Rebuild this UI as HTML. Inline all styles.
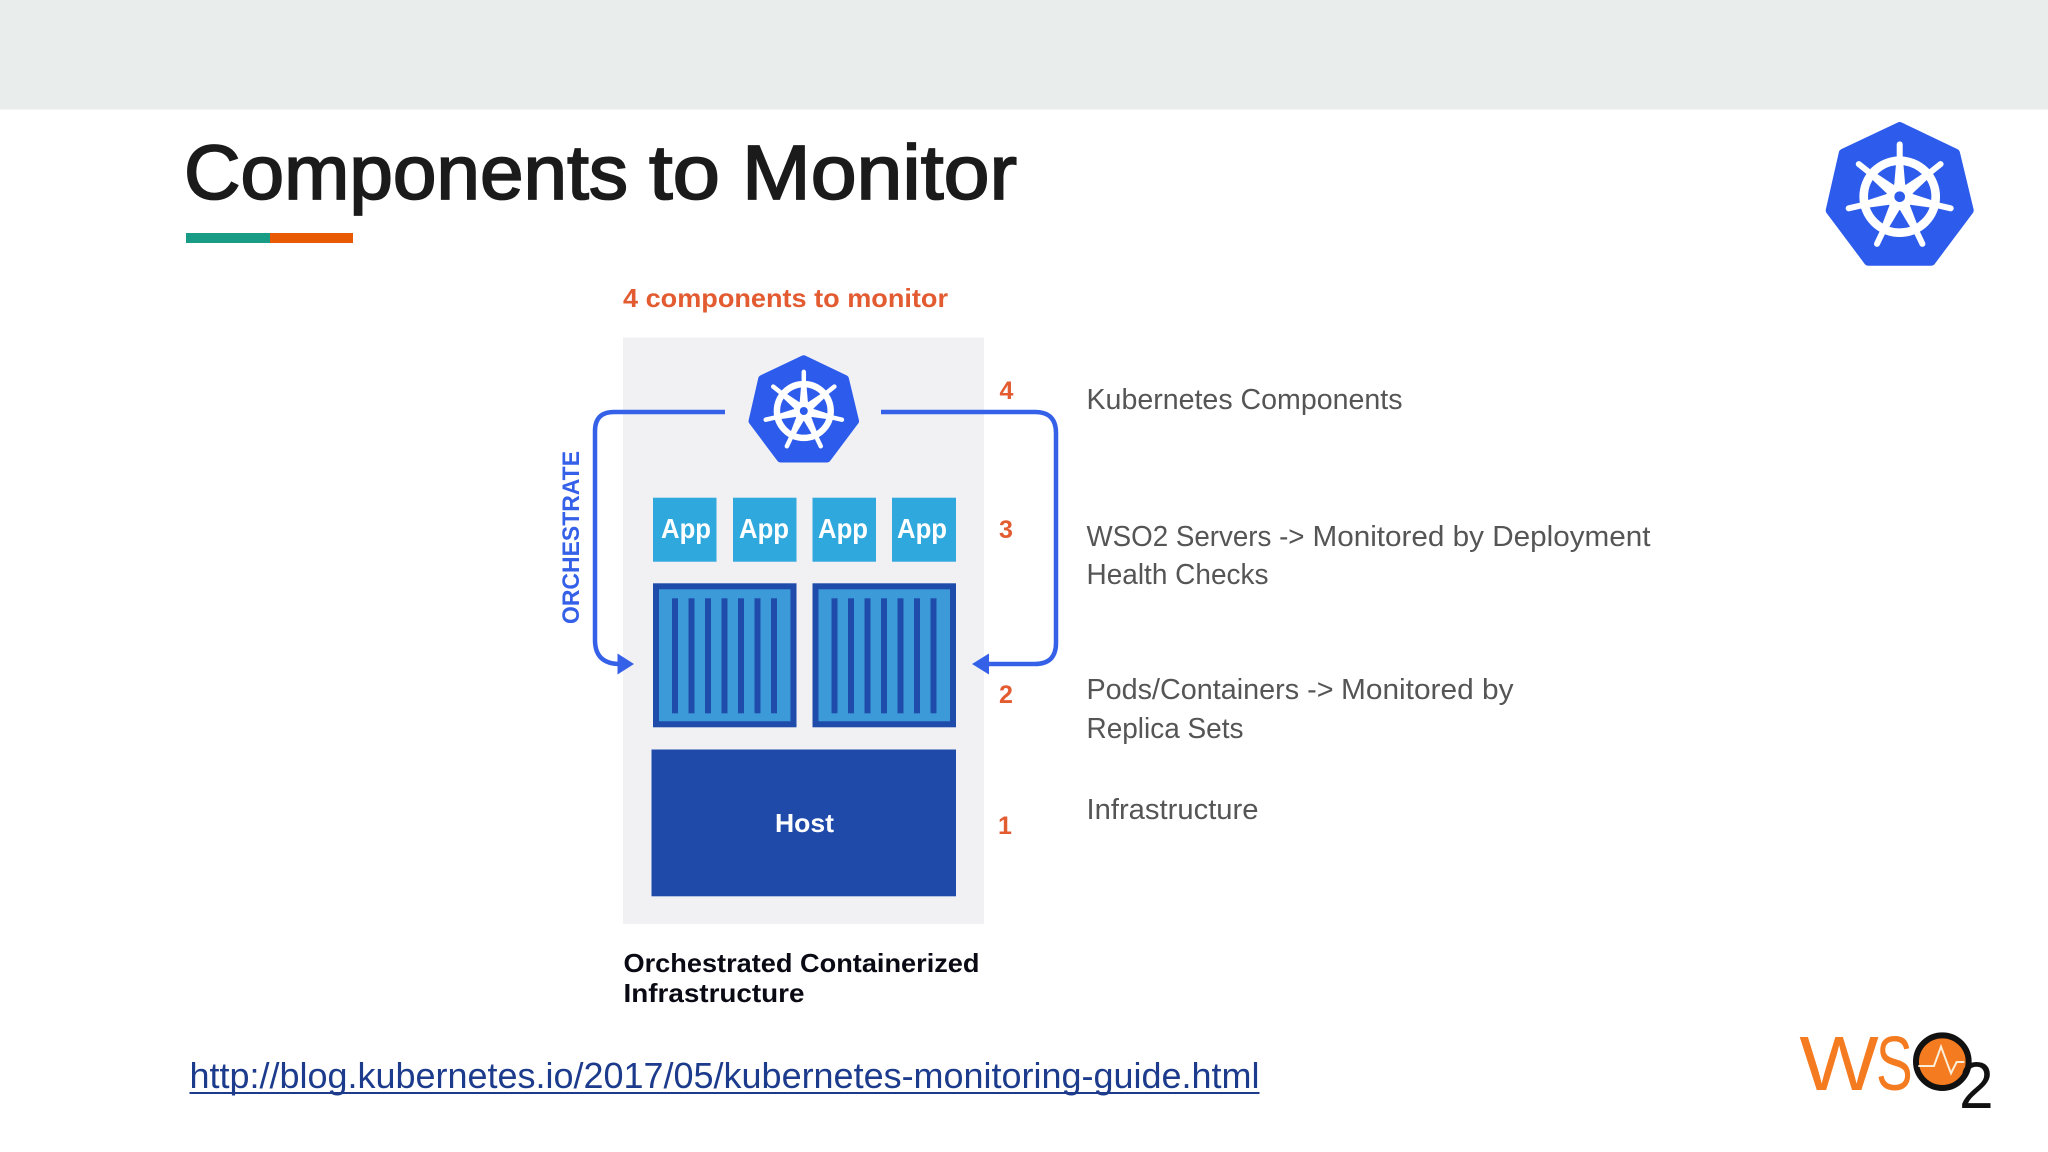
<!DOCTYPE html>
<html><head><meta charset="utf-8"><title>Components to Monitor</title>
<style>html,body{margin:0;padding:0;background:#fff;width:2048px;height:1152px;overflow:hidden}svg{display:block}
text{font-family:"Liberation Sans",sans-serif}</style></head><body>
<svg width="2048" height="1152" viewBox="0 0 2048 1152" xmlns="http://www.w3.org/2000/svg">
<defs>
<g id="k8s">
<polygon points="0,-210 167,-130 208,41 94,193 -94,193 -208,41 -169,-130" fill="#2d5ced" stroke="#2d5ced" stroke-width="28" stroke-linejoin="round"/>
<circle r="108" fill="none" stroke="#fff" stroke-width="26"/>
<g stroke="#fff" stroke-linecap="round">
<g id="sp"><line y1="-157" y2="-110" stroke-width="18"/><polygon points="-10,-110 10,-110 17,-30 -17,-30" fill="#fff" stroke="none"/></g>
<use href="#sp" transform="rotate(51.43)"/><use href="#sp" transform="rotate(102.86)"/><use href="#sp" transform="rotate(154.29)"/>
<use href="#sp" transform="rotate(205.71)"/><use href="#sp" transform="rotate(257.14)"/><use href="#sp" transform="rotate(308.57)"/>
</g>
<circle r="40" fill="#fff"/><circle r="16" fill="#2d5ced"/>
</g>
<g id="ctr"><rect x="3" y="3" width="137.500" height="138" fill="#3d9ad9" stroke="#1f4bab" stroke-width="6"/>
<g fill="#1f4bab"><rect x="19" y="15" width="6" height="115"/><rect x="35.500" y="15" width="6" height="115"/><rect x="52" y="15" width="6" height="115"/><rect x="68.500" y="15" width="6" height="115"/><rect x="85" y="15" width="6" height="115"/><rect x="101.500" y="15" width="6" height="115"/><rect x="118" y="15" width="6" height="115"/></g></g>
</defs>
<rect width="2048" height="109.500" fill="#e9eeed"/>
<g font-size="77" fill="#1b1b1b" stroke="#1b1b1b" stroke-width="1.800">
<text x="184" y="199" textLength="444" lengthAdjust="spacingAndGlyphs">Components</text>
<text x="649" y="199" textLength="71" lengthAdjust="spacingAndGlyphs">to</text>
<text x="742" y="199" textLength="275" lengthAdjust="spacingAndGlyphs">Monitor</text>
</g>
<rect x="186" y="233" width="84" height="10" fill="#189c86"/><rect x="270" y="233" width="83" height="10" fill="#e95a05"/>
<use href="#k8s" transform="translate(1899.700 196.700) scale(.3333)"/>

<rect x="623" y="337.500" width="361" height="586.500" fill="#f1f1f4"/>
<text x="623" y="307" font-size="26" font-weight="bold" fill="#e35b30" textLength="325" lengthAdjust="spacingAndGlyphs">4 components to monitor</text>
<use href="#k8s" transform="translate(803.800 411) scale(.2490)"/>
<g fill="#2fa9dd"><rect x="653" y="497.700" width="63.500" height="64"/><rect x="733" y="497.700" width="63.500" height="64"/><rect x="812.500" y="497.700" width="63.500" height="64"/><rect x="892" y="497.700" width="64" height="64"/></g>
<g fill="#fff" font-size="28" font-weight="bold"><text x="661" y="538" textLength="50" lengthAdjust="spacingAndGlyphs">App</text><text x="739" y="538" textLength="50" lengthAdjust="spacingAndGlyphs">App</text><text x="818" y="538" textLength="50" lengthAdjust="spacingAndGlyphs">App</text><text x="897" y="538" textLength="50" lengthAdjust="spacingAndGlyphs">App</text></g>
<use href="#ctr" x="653" y="583.300"/><use href="#ctr" x="812.500" y="583.300"/>
<rect x="651.500" y="749.500" width="304.500" height="146.800" fill="#1f4aaa"/>
<text x="775" y="832" font-size="26" font-weight="bold" fill="#fff" textLength="59" lengthAdjust="spacingAndGlyphs">Host</text>
<text x="623.500" y="972" font-size="26" font-weight="bold" fill="#0a0a14" textLength="356" lengthAdjust="spacingAndGlyphs">Orchestrated Containerized</text>
<text x="623.500" y="1002" font-size="26" font-weight="bold" fill="#0a0a14" textLength="181" lengthAdjust="spacingAndGlyphs">Infrastructure</text>

<g fill="none" stroke="#3560e8" stroke-width="4.500">
<path d="M725 412H614Q595 412 595 431V640Q595 664 620 664"/>
<path d="M881 412H1035Q1056 412 1056 433V643Q1056 664 1035 664H985"/>
</g>
<polygon points="617.500,653.500 634,664 617.500,674.500" fill="#3560e8"/><polygon points="989,653.500 972,664 989,674.500" fill="#3560e8"/>
<text transform="translate(579 624) rotate(-90)" font-size="24" font-weight="bold" fill="#3560e8" textLength="173" lengthAdjust="spacingAndGlyphs">ORCHESTRATE</text>
<g fill="#e35b30" font-size="25" font-weight="bold"><text x="999.500" y="399">4</text><text x="999" y="538">3</text><text x="999" y="703">2</text><text x="998" y="834">1</text></g>

<g fill="#555" font-size="29">
<text x="1086.500" y="409" textLength="316" lengthAdjust="spacingAndGlyphs">Kubernetes Components</text>
<text x="1086.500" y="546" textLength="218" lengthAdjust="spacingAndGlyphs">WSO2 Servers -&gt;</text>
<text x="1312.500" y="546" textLength="338" lengthAdjust="spacingAndGlyphs">Monitored by Deployment</text>
<text x="1086.500" y="584" textLength="182" lengthAdjust="spacingAndGlyphs">Health Checks</text>
<text x="1086.500" y="699" textLength="247" lengthAdjust="spacingAndGlyphs">Pods/Containers -&gt;</text>
<text x="1341" y="699" textLength="172.500" lengthAdjust="spacingAndGlyphs">Monitored by</text>
<text x="1086.500" y="738" textLength="157" lengthAdjust="spacingAndGlyphs">Replica Sets</text>
<text x="1086.500" y="819" textLength="172" lengthAdjust="spacingAndGlyphs">Infrastructure</text>
</g>
<text x="189.500" y="1088" font-size="36" fill="#1c3b8c" textLength="1070" lengthAdjust="spacingAndGlyphs">http://blog.kubernetes.io/2017/05/kubernetes-monitoring-guide.html</text>
<rect x="189.500" y="1092" width="1070" height="2" fill="#1c3b8c"/>

<g transform="translate(1780 1010) scale(.3333)">
<text x="58" y="240" font-size="232" fill="#f47b20" textLength="238" lengthAdjust="spacingAndGlyphs">W</text>
<text x="288" y="240" font-size="232" fill="#f47b20" textLength="110" lengthAdjust="spacingAndGlyphs">S</text>
<circle cx="487" cy="155" r="79" fill="#f47b20" stroke="#111" stroke-width="18"/>
<polyline points="415,168 462,168 483,110 513,190 530,156 553,156" fill="none" stroke="#fbeed8" stroke-width="6"/>
<text x="537" y="294" font-size="198" fill="#111" textLength="104" lengthAdjust="spacingAndGlyphs">2</text>
</g>
</svg>
</body></html>
